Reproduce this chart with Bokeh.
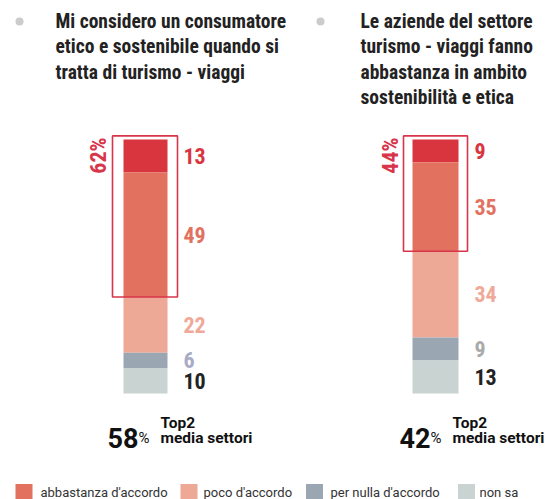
from bokeh.plotting import figure
from bokeh.models import Range1d, ColumnDataSource
from bokeh.core.properties import value
from bokeh.embed import file_html
from bokeh.resources import INLINE

# ---------------- data ----------------
categories = ["molto d'accordo", "abbastanza d'accordo", "poco d'accordo", "per nulla d'accordo", "non sa"]
left_vals = [13, 49, 22, 6, 10]
right_vals = [9, 35, 34, 9, 13]
top2_vals = [62, 44]
media_vals = [58, 42]
left_title = ["Mi considero un consumatore", "etico e sostenibile quando si", "tratta di turismo - viaggi"]
right_title = ["Le aziende del settore", "turismo - viaggi fanno", "abbastanza in ambito", "sostenibilità e etica"]
media_label = ["Top2", "media settori"]

# ---------------- style ----------------
seg_colors = ["#d8353f", "#e2725f", "#eda896", "#9aa6b1", "#c9d4d2"]
left_label_colors = ["#d8353f", "#e2725f", "#f0a898", "#a8abc6", "#222222"]
right_label_colors = ["#d8353f", "#e2725f", "#f0a898", "#aaaaaa", "#222222"]
box_color = "#d8344a"
FONT_N = "Liberation Sans Narrow, Roboto Condensed, DejaVu Sans Condensed, sans-serif"
FONT_R = "Roboto"

W, H = 551, 499
PX = 2.54          # pixels per percentage point
BASE = 393         # pixel row of 0%


def yv(ypix):
    return (BASE - ypix) / PX


p = figure(width=W, height=H, output_backend="svg", toolbar_location=None,
           x_range=Range1d(0, W), y_range=Range1d(yv(H), yv(0)),
           min_border=0, outline_line_color=None)
p.xaxis.visible = False
p.yaxis.visible = False
p.xgrid.visible = False
p.ygrid.visible = False
p.background_fill_color = "white"
p.border_fill_color = "white"


def stack(vals):
    tops, bots, mids = [], [], []
    t = 100
    for v in vals:
        tops.append(t)
        bots.append(t - v)
        mids.append(t - v / 2)
        t -= v
    return tops, bots, mids


panels = [
    dict(vals=left_vals, bx=145, bw=44, box=(112, 177), lab_x=183,
         lab_colors=left_label_colors, top2=top2_vals[0], t2x=98,
         media=media_vals[0], mx=107, title=left_title, tx=55, dot=19),
    dict(vals=right_vals, bx=435, bw=46, box=(403, 467), lab_x=474,
         lab_colors=right_label_colors, top2=top2_vals[1], t2x=390,
         media=media_vals[1], mx=399, title=right_title, tx=360, dot=320),
]

for pn in panels:
    tops, bots, mids = stack(pn["vals"])
    src = ColumnDataSource(dict(x=[pn["bx"]] * len(pn["vals"]), top=tops, bottom=bots,
                                color=seg_colors, mid=mids,
                                lab=[str(v) for v in pn["vals"]], lc=pn["lab_colors"],
                                lx=[pn["lab_x"]] * len(pn["vals"])))
    p.vbar(x="x", width=pn["bw"], top="top", bottom="bottom", fill_color="color",
           line_color=None, source=src)
    p.text(x="lx", y="mid", text="lab", text_color="lc", text_font=value(FONT_N),
           text_font_size="22px", text_font_style="bold", text_baseline="middle",
           text_align="left", source=src)
    # top2 box
    p.quad(left=[pn["box"][0]], right=[pn["box"][1]], top=[100 + 3.6 / PX],
           bottom=[100 - pn["top2"]], fill_color=None, line_color=box_color, line_width=1.6)
    p.text(x=[pn["t2x"]], y=[yv(155)], text=[f"{pn['top2']}%"], angle=1.5708,
           text_color=box_color, text_font=value(FONT_N), text_font_size="22px",
           text_font_style="bold", text_align="center", text_baseline="middle")
    # media
    p.text(x=[pn["mx"]], y=[yv(437)], text=[str(pn["media"])], text_color="#111111",
           text_font=value(FONT_R), text_font_size="27px", text_font_style="bold",
           text_align="left", text_baseline="alphabetic")
    p.text(x=[pn["mx"] + 31], y=[yv(437)], text=["%"], text_color="#111111",
           text_font=value(FONT_R), text_font_size="15px", text_font_style="normal",
           text_align="left", text_baseline="alphabetic")
    p.text(x=[pn["mx"] + 53] * 2, y=[yv(422), yv(437)], text=media_label,
           text_color="#111111", text_font=value(FONT_R), text_font_size="15.5px",
           text_font_style="bold", text_align="left", text_baseline="alphabetic")
    # title
    n = len(pn["title"])
    p.text(x=[pn["tx"]] * n, y=[yv(21 + 25.3 * i) for i in range(n)], text=pn["title"],
           text_color="#222222", text_font=value(FONT_N), text_font_size="19.5px",
           text_font_style="bold", text_align="left", text_baseline="middle")
    p.scatter(x=[pn["dot"]], y=[yv(21)], size=8, marker="circle",
              fill_color="#cccccc", line_color=None)

# legend (visible items)
leg_items = categories[1:]
leg_colors = seg_colors[1:]
leg_sq_x = [23.5, 188.5, 314, 466]
leg_tx = [40, 203, 330, 479]
ly = yv(492)
p.rect(x=leg_sq_x, y=[ly] * 4, width=17, height=17 / PX, fill_color=leg_colors, line_color=None)
p.text(x=leg_tx, y=[ly] * 4, text=leg_items, text_color="#333333", text_font=value(FONT_R),
       text_font_size="13px", text_align="left", text_baseline="middle")

open("out.html", "w").write(file_html(p, INLINE))
